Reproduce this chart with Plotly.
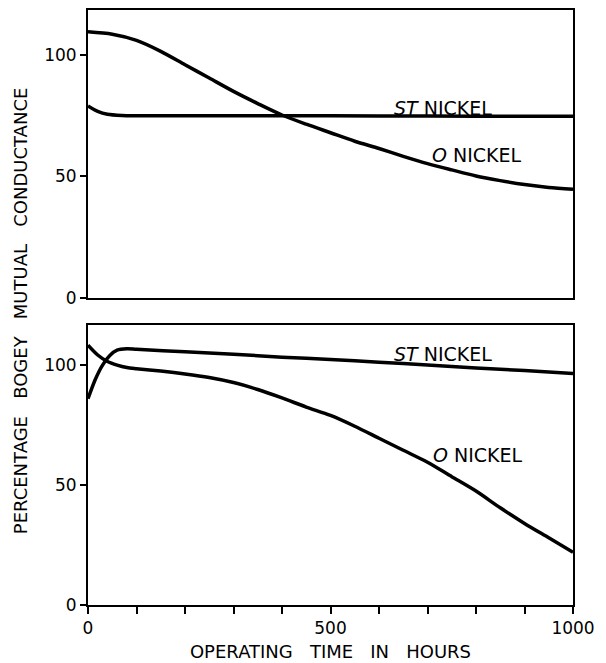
import plotly.graph_objects as go
from plotly.subplots import make_subplots

# ---- data (hours, percentage bogey mutual conductance) ----
top_o_hours = [0, 50, 100, 150, 200, 250, 300, 350, 400, 450, 500, 550, 600, 650, 700, 750, 800, 850, 900, 950, 1000]
top_o_values = [109.5, 108.5, 106, 101.5, 96, 90.5, 85, 80, 75.3, 71.5, 68, 64.5, 61.5, 58.3, 55.3, 52.7, 50.2, 48.3, 46.7, 45.5, 44.7]

top_st_hours = [0, 20, 40, 70, 100, 200, 400, 600, 800, 1000]
top_st_values = [79, 76.8, 75.6, 75.1, 75, 75, 75, 74.9, 74.8, 74.8]

bot_st_hours = [0, 15, 30, 45, 60, 80, 100, 200, 300, 400, 500, 600, 700, 800, 900, 1000]
bot_st_values = [86, 94, 100, 104, 106.2, 106.8, 106.6, 105.5, 104.5, 103.3, 102.3, 101.2, 100, 98.8, 97.7, 96.5]

bot_o_hours = [0, 20, 40, 60, 80, 100, 150, 200, 250, 300, 350, 400, 450, 500, 550, 600, 650, 700, 750, 800, 850, 900, 950, 1000]
bot_o_values = [108.3, 104.2, 101.5, 100, 99, 98.5, 97.5, 96.3, 94.8, 92.7, 89.8, 86.3, 82.5, 79, 74.5, 69.5, 64.5, 59.5, 53.5, 47.5, 40.5, 34, 28, 22]

x_tick_vals = [0, 100, 200, 300, 400, 500, 600, 700, 800, 900, 1000]
x_tick_text = ["0", "", "", "", "", "500", "", "", "", "", "1000"]
y_tick_vals = [0, 50, 100]
y_tick_text = ["0", "50", "100"]

FONT = "DejaVu Sans"
INK = "black"

fig = make_subplots(rows=2, cols=1, shared_xaxes=False, vertical_spacing=0.045)

line_style = dict(color=INK, width=3.5, shape="spline", smoothing=0.8)
fig.add_trace(go.Scatter(x=top_o_hours, y=top_o_values, mode="lines", line=line_style, showlegend=False), row=1, col=1)
fig.add_trace(go.Scatter(x=top_st_hours, y=top_st_values, mode="lines", line=line_style, showlegend=False), row=1, col=1)
fig.add_trace(go.Scatter(x=bot_st_hours, y=bot_st_values, mode="lines", line=line_style, showlegend=False), row=2, col=1)
fig.add_trace(go.Scatter(x=bot_o_hours, y=bot_o_values, mode="lines", line=line_style, showlegend=False), row=2, col=1)

axis_common = dict(showline=True, linecolor=INK, linewidth=2, mirror=True, showgrid=False, zeroline=False,
                   automargin=False,
                   tickfont=dict(family=FONT, size=17, color=INK), tickcolor=INK, tickwidth=1.5)

fig.update_xaxes(range=[0, 1000], ticks="", showticklabels=False, row=1, col=1, **axis_common)
fig.update_xaxes(range=[0, 1000], ticks="outside", ticklen=7, tickvals=x_tick_vals, ticktext=x_tick_text,
                 title=dict(text="OPERATING\u00a0\u00a0 TIME\u00a0\u00a0 IN\u00a0\u00a0 HOURS",
                            font=dict(family=FONT, size=18, color=INK), standoff=8),
                 row=2, col=1, **axis_common)
fig.update_yaxes(range=[0, 118.5], ticks="outside", ticklen=6, tickvals=y_tick_vals, ticktext=y_tick_text,
                 row=1, col=1, **axis_common)
fig.update_yaxes(range=[0, 116.7], ticks="outside", ticklen=6, tickvals=y_tick_vals, ticktext=y_tick_text,
                 row=2, col=1, **axis_common)

fig.update_layout(
    width=606, height=663,
    margin=dict(l=88, r=33, t=10, b=58),
    plot_bgcolor="white", paper_bgcolor="white",
    font=dict(family=FONT, color=INK),
    hovermode=False,
)
fig.layout.yaxis.domain = [0.516, 1.0]
fig.layout.yaxis2.domain = [0.0, 0.4706]

lab_font = dict(family=FONT, size=19, color=INK)
fig.add_annotation(x=732, y=78.2, xref="x", yref="y", text="<i>ST</i> NICKEL", showarrow=False, font=lab_font)
fig.add_annotation(x=802, y=58.8, xref="x", yref="y", text="<i>O</i> NICKEL", showarrow=False, font=lab_font)
fig.add_annotation(x=732, y=104.5, xref="x2", yref="y2", text="<i>ST</i> NICKEL", showarrow=False, font=lab_font)
fig.add_annotation(x=804, y=62.5, xref="x2", yref="y2", text="<i>O</i> NICKEL", showarrow=False, font=lab_font)

fig.add_annotation(x=-0.14, y=0.494, xref="paper", yref="paper", xanchor="center", yanchor="middle",
                   text="PERCENTAGE\u00a0\u00a0 BOGEY\u00a0\u00a0 MUTUAL\u00a0\u00a0 CONDUCTANCE", textangle=-90, showarrow=False,
                   font=dict(family=FONT, size=18, color=INK))

# remove the browser's default 8px body margin so the 606x663 figure fills the window exactly
fig.write_html("out.html", config={"displayModeBar": False},
               post_script="document.body.style.margin='0';document.body.style.overflow='hidden';")
